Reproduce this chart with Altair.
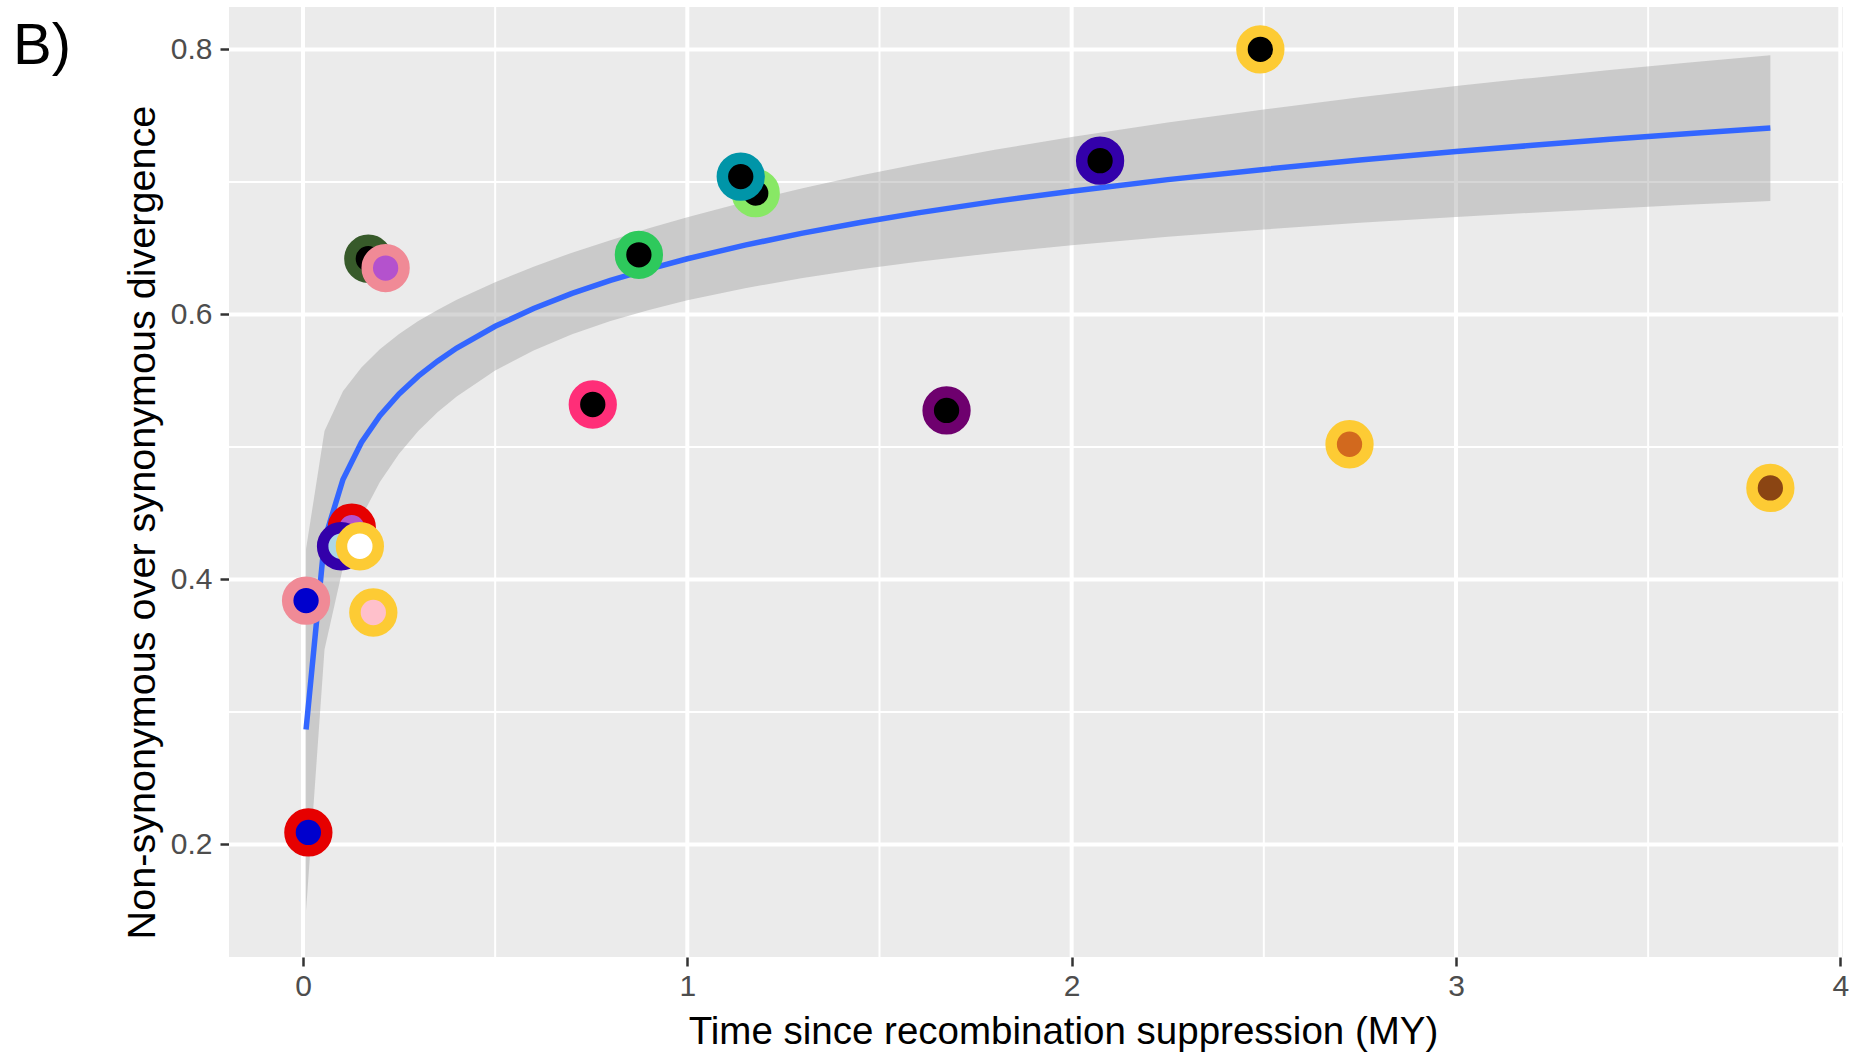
import altair as alt
import pandas as pd

# Strata: time since recombination suppression (MY) and dN/dS
time_my = [0.014, 0.008, 0.127, 0.099, 0.148, 0.183, 0.170, 0.215, 0.754,
           0.874, 1.178, 1.139, 1.6745, 2.074, 2.491, 2.723, 3.818]
dnds = [0.209, 0.384, 0.439, 0.425, 0.425, 0.375, 0.642, 0.635, 0.532,
        0.645, 0.6915, 0.704, 0.5275, 0.716, 0.800, 0.502, 0.469]
ring_color = ["#E60000", "#F08A96", "#E60000", "#3300AA", "#FDCB34", "#FDCB34",
              "#375A2A", "#F08A96", "#FF2E78", "#2EC95C", "#88E865", "#0095A8",
              "#6E006E", "#3300AA", "#FDCB34", "#FDCB34", "#FDCB34"]
core_color = ["#0000CD", "#0000CD", "#B452CD", "#ADD8E6", "#FFFFFF", "#FFC0CB",
              "#000000", "#B452CD", "#000000", "#000000", "#000000", "#000000",
              "#000000", "#000000", "#000000", "#D2691E", "#8B4513"]

# Logarithmic fit with its confidence band
fit_x = [0.008, 0.056, 0.104, 0.152, 0.2, 0.25, 0.3, 0.35, 0.4, 0.5, 0.6, 0.7,
         0.8, 0.9, 1.0, 1.15, 1.3, 1.45, 1.6, 1.8, 2.0, 2.25, 2.5, 2.75, 3.0,
         3.2, 3.4, 3.6, 3.818]
fit_y = [0.2867, 0.4299, 0.4754, 0.5033, 0.5236, 0.5400, 0.5534, 0.5647, 0.5746,
         0.5910, 0.6044, 0.6158, 0.6256, 0.6342, 0.6420, 0.6523, 0.6613, 0.6694,
         0.6766, 0.6853, 0.6930, 0.7017, 0.7094, 0.7165, 0.7229, 0.7276, 0.7321,
         0.7363, 0.7406]
fit_lo = [0.150, 0.347, 0.409, 0.447, 0.4735, 0.4948, 0.512, 0.5261, 0.538,
          0.5577, 0.5728, 0.5850, 0.595, 0.6033, 0.6106, 0.6198, 0.6274, 0.6340,
          0.6397, 0.6464, 0.6522, 0.6586, 0.6641, 0.6691, 0.6735, 0.6768, 0.6798,
          0.6827, 0.6856]
fit_hi = [0.423, 0.512, 0.542, 0.560, 0.5737, 0.5852, 0.595, 0.6033, 0.611,
          0.6243, 0.636, 0.6466, 0.656, 0.6651, 0.6734, 0.6848, 0.6952, 0.7048,
          0.7135, 0.7242, 0.7338, 0.7449, 0.7547, 0.7639, 0.7723, 0.7785, 0.7844,
          0.7899, 0.7956]

x_major = [0, 1, 2, 3, 4]
x_minor = [0.5, 1.5, 2.5, 3.5]
y_major = [0.2, 0.4, 0.6, 0.8]
y_minor = [0.3, 0.5, 0.7]

FONT = "Liberation Sans"
xscale = alt.Scale(domain=[-0.1925, 4.007], nice=False, zero=False)
yscale = alt.Scale(domain=[0.115, 0.832], nice=False, zero=False)

xaxis = alt.Axis(
    values=x_major, format="d", grid=False, domain=False,
    labelFont=FONT, labelFontSize=30, labelColor="#4D4D4D", labelPadding=5,
    tickColor="#333333", tickSize=9, tickWidth=2.5,
    titleFont=FONT, titleFontSize=38.5, titleFontWeight="normal",
    titleColor="black", titleX=834, titleY=86,
    titleAlign="center", titleBaseline="alphabetic",
)
yaxis = alt.Axis(
    values=y_major, format=".1f", grid=False, domain=False,
    labelFont=FONT, labelFontSize=30, labelColor="#4D4D4D", labelPadding=8,
    tickColor="#333333", tickSize=9, tickWidth=2.5,
    titleFont=FONT, titleFontSize=39.6, titleFontWeight="normal",
    titleColor="black", titleAngle=270, titleX=-75, titleY=515,
    titleAlign="center", titleBaseline="alphabetic",
)
XTITLE = "Time since recombination suppression (MY)"
YTITLE = "Non-synonymous over synonymous divergence"


def xenc(field):
    return alt.X(field, scale=xscale, axis=xaxis, title=XTITLE)


def yenc(field):
    return alt.Y(field, scale=yscale, axis=yaxis, title=YTITLE)


points = pd.DataFrame({"t": time_my, "r": dnds, "ring": ring_color, "core": core_color})
fit = pd.DataFrame({"t": fit_x, "r": fit_y, "lo": fit_lo, "hi": fit_hi})


def vrules(vals, width):
    return alt.Chart(pd.DataFrame({"t": vals})).mark_rule(
        color="white", strokeWidth=width
    ).encode(x=xenc("t:Q"))


def hrules(vals, width):
    return alt.Chart(pd.DataFrame({"r": vals})).mark_rule(
        color="white", strokeWidth=width
    ).encode(y=yenc("r:Q"))


band = alt.Chart(fit).mark_area(color="#999999", opacity=0.4).encode(
    x=xenc("t:Q"), y=yenc("lo:Q"), y2="hi:Q",
)

line = alt.Chart(fit).mark_line(color="#3366FF", strokeWidth=5.5).encode(
    x=xenc("t:Q"), y=yenc("r:Q"),
)

dots = alt.Chart(points).mark_point(
    shape="circle", filled=True, size=1353, strokeWidth=11.5, opacity=1
).encode(
    x=xenc("t:Q"),
    y=yenc("r:Q"),
    fill=alt.Fill("core:N", scale=None),
    stroke=alt.Stroke("ring:N", scale=None),
)

tag = alt.Chart(pd.DataFrame({"label": ["B)"]})).mark_text(
    align="left", baseline="alphabetic", font=FONT, fontSize=58, color="black"
).encode(x=alt.value(-216), y=alt.value(57), text="label:N")

chart = alt.layer(
    vrules(x_minor, 2), hrules(y_minor, 2),
    vrules(x_major, 4), hrules(y_major, 4),
    band, line, dots, tag,
).properties(
    width=1614, height=950,
    autosize=alt.AutoSizeParams(type="none"),
    padding={"left": 229, "top": 7, "right": 20, "bottom": 96},
    background="white",
).configure_view(fill="#EBEBEB", stroke=None)

chart.save("out.html", embed_options={"renderer": "svg", "actions": False})
